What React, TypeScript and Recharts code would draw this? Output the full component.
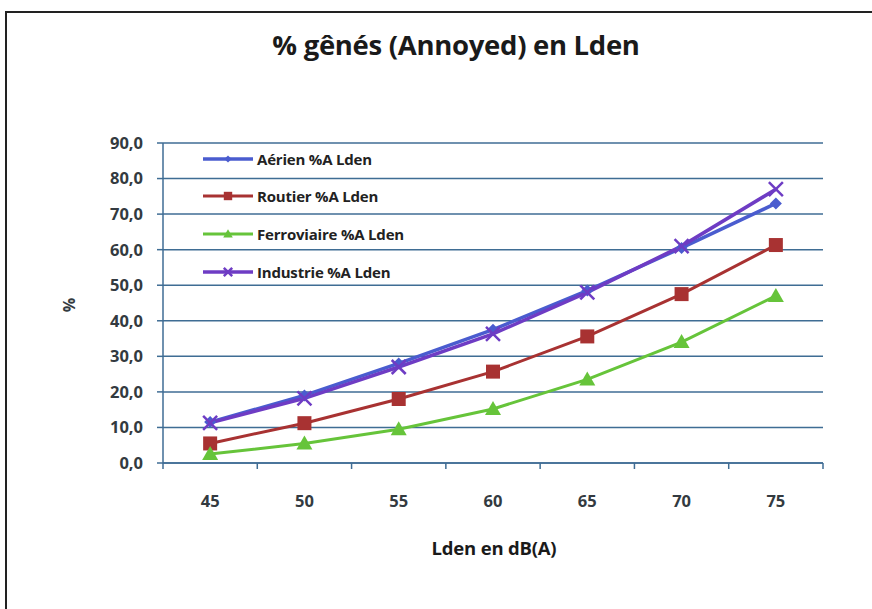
import React from 'react';
import { LineChart, Line, XAxis, YAxis, CartesianGrid } from 'recharts';

// Lden levels (dB(A)) and % annoyed per noise source
const lden = [45, 50, 55, 60, 65, 70, 75];
const aerien = [11.5, 19, 28, 37.5, 48.5, 60.5, 73];
const routier = [5.5, 11.2, 18, 25.7, 35.6, 47.5, 61.3];
const ferroviaire = [2.5, 5.5, 9.5, 15.2, 23.5, 34, 47];
const industrie = [11.3, 18.2, 27, 36.3, 48, 61, 77];
const yTicks = [0, 10, 20, 30, 40, 50, 60, 70, 80, 90];

const data = lden.map((x, i) => ({
  x,
  aerien: aerien[i],
  routier: routier[i],
  ferroviaire: ferroviaire[i],
  industrie: industrie[i]
}));

const GRID = '#3f6d94';
const TXT = '#333a40';
const FONT = '"Open Sans", "DejaVu Sans", sans-serif';
const TICK_SIZE = 6;
const TICK_MARGIN = 26;

const series = [
  { key: 'aerien', name: 'Aérien %A Lden', color: '#4a5ccf', width: 3.5, shape: 'diamond' },
  { key: 'routier', name: 'Routier %A Lden', color: '#a83232', width: 3, shape: 'square' },
  { key: 'ferroviaire', name: 'Ferroviaire %A Lden', color: '#66c43a', width: 3, shape: 'triangle' },
  { key: 'industrie', name: 'Industrie %A Lden', color: '#6e3cc4', width: 3.5, shape: 'cross' }
];

const Marker = ({ cx, cy, shape, color, s = 1 }: any) => {
  if (cx == null || cy == null) return null;
  if (shape === 'square') return <rect x={cx - 7 * s} y={cy - 7 * s} width={14 * s} height={14 * s} fill={color} />;
  if (shape === 'triangle')
    return <polygon points={`${cx},${cy - 8 * s} ${cx + 8 * s},${cy + 6 * s} ${cx - 8 * s},${cy + 6 * s}`} fill={color} />;
  if (shape === 'diamond')
    return <polygon points={`${cx},${cy - 6 * s} ${cx + 6 * s},${cy} ${cx},${cy + 6 * s} ${cx - 6 * s},${cy}`} fill={color} />;
  return (
    <g stroke={color} strokeWidth={2.5}>
      <line x1={cx - 7 * s} y1={cy - 7 * s} x2={cx + 7 * s} y2={cy + 7 * s} />
      <line x1={cx - 7 * s} y1={cy + 7 * s} x2={cx + 7 * s} y2={cy - 7 * s} />
    </g>
  );
};

const fmt = (v: number) => v.toFixed(1).replace('.', ',');
const tickFont = { fill: TXT, fontSize: 16.5, fontWeight: 700, fontFamily: FONT };

// category-style x tick: label at the centre, tick marks on the category boundaries
const XTick = (p: any) => {
  const n = p.visibleTicksCount || lden.length;
  const half = p.width ? p.width / (2 * n) : 0;
  const ay = p.y - TICK_SIZE - TICK_MARGIN;
  return (
    <g>
      {half > 0 && <line x1={p.x - half} x2={p.x - half} y1={ay} y2={ay + TICK_SIZE} stroke={GRID} strokeWidth={1.5} />}
      {half > 0 && p.index === n - 1 && <line x1={p.x + half} x2={p.x + half} y1={ay} y2={ay + TICK_SIZE} stroke={GRID} strokeWidth={1.5} />}
      <text x={p.x} y={p.y} dy="0.71em" textAnchor="middle" {...tickFont}>{p.payload.value}</text>
    </g>
  );
};

export default function App() {
  return (
    <div style={{ position: 'absolute', left: 0, top: 0, width: 872, height: 609, background: '#fff', overflow: 'hidden' }}>
      <div style={{ position: 'absolute', left: 5, top: 11, width: 900, height: 700, borderLeft: '2px solid #222', borderTop: '2px solid #222' }} />
      <div style={{ position: 'absolute', left: 0, top: 26, width: 912, textAlign: 'center', fontFamily: FONT, fontWeight: 700, fontSize: 27.5, color: '#1a1a1a', letterSpacing: -0.3 }}>
        % gênés (Annoyed) en Lden
      </div>
      <div style={{ position: 'absolute', left: 0, top: 535, width: 988, textAlign: 'center', fontFamily: FONT, fontWeight: 700, fontSize: 18.5, color: '#1a1a1a', letterSpacing: -0.2 }}>
        Lden en dB(A)
      </div>
      <div style={{ position: 'absolute', left: 62, top: 294, fontFamily: FONT, fontWeight: 700, fontSize: 16, color: TXT, transform: 'rotate(-90deg)' }}>
        %
      </div>
      <div style={{ position: 'absolute', left: 0, top: 0 }}>
        <LineChart width={872} height={609} data={data} margin={{ top: 143, right: 49, bottom: 106, left: 0 }}>
          <CartesianGrid vertical={false} stroke={GRID} strokeWidth={1.5} />
          <XAxis type="number" dataKey="x" domain={[42.5, 77.5]} ticks={lden} interval={0} height={40} axisLine={{ stroke: GRID, strokeWidth: 1.5 }} tickLine={false} tickSize={TICK_SIZE} tickMargin={TICK_MARGIN} tick={<XTick />} />
          <YAxis width={163} domain={[0, 90]} ticks={yTicks} interval={0} tickFormatter={fmt} axisLine={{ stroke: GRID, strokeWidth: 1.5 }} tickLine={{ stroke: GRID, strokeWidth: 1.5 }} tickSize={6} tickMargin={14} tick={tickFont} />
          {series.map((s) => (
            <Line key={s.key} type="linear" dataKey={s.key} name={s.name} stroke={s.color} strokeWidth={s.width} isAnimationActive={false} dot={(p: any) => <Marker key={`${s.key}-${p.index}`} cx={p.cx} cy={p.cy} shape={s.shape} color={s.color} />} activeDot={false} />
          ))}
        </LineChart>
      </div>
      <div style={{ position: 'absolute', left: 203, top: 140, fontFamily: FONT, fontWeight: 700, fontSize: 15, color: '#222', letterSpacing: -0.2 }}>
        {series.map((s) => (
          <div key={s.key} style={{ height: 37.6, display: 'flex', alignItems: 'center' }}>
            <svg width={52} height={16} style={{ marginRight: 2 }}>
              <line x1={0} y1={8} x2={50} y2={8} stroke={s.color} strokeWidth={s.width} />
              <Marker cx={25} cy={8} shape={s.shape} color={s.color} s={0.6} />
            </svg>
            <span>{s.name}</span>
          </div>
        ))}
      </div>
    </div>
  );
}
